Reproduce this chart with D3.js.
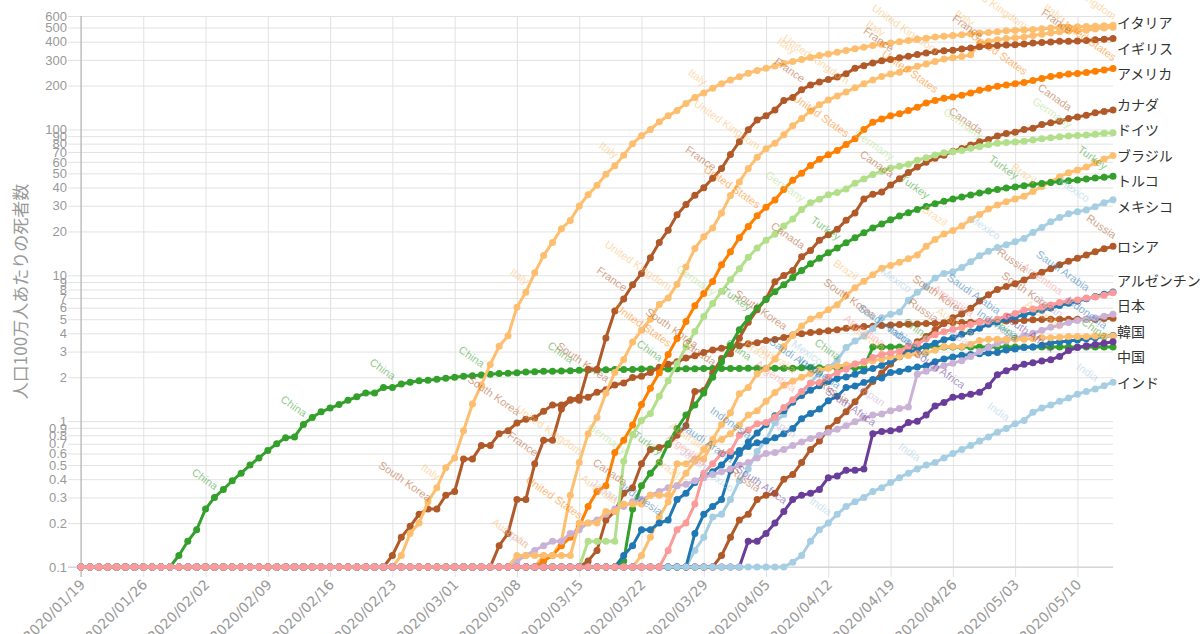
<!DOCTYPE html>
<html>
<head>
<meta charset="utf-8">
<script src="https://cdn.jsdelivr.net/npm/d3@7"></script>
<style>
  body { margin: 0; background: #fff; }
  svg { display: block; }
  text { font-family: "Liberation Sans", Arial, sans-serif; }
</style>
</head>
<body>
<svg width="1203" height="634"></svg>
<script>
// axis data
const firstDay = "2020/01/19";
const lastDay = "2020/05/14";
const tickLabels = ["2020/01/19", "2020/01/26", "2020/02/02", "2020/02/09", "2020/02/16", "2020/02/23",
  "2020/03/01", "2020/03/08", "2020/03/15", "2020/03/22", "2020/03/29", "2020/04/05", "2020/04/12",
  "2020/04/19", "2020/04/26", "2020/05/03", "2020/05/10"];
const yTicks = [0.1, 0.2, 0.3, 0.4, 0.5, 0.6, 0.7, 0.8, 0.9, 1, 2, 3, 4, 5, 6, 7, 8, 9,
  10, 20, 30, 40, 50, 60, 70, 80, 90, 100, 200, 300, 400, 500, 600];
const floorValue = 0.1; // values under 0.1 are drawn on the 0.1 line
const yTitle = "人口100万人あたりの死者数";

// series (draw order). every value array ends on lastDay; days before its first value sit on the floor
const countries = ["China", "South Korea", "Italy", "United Kingdom", "France", "United States", "Canada",
  "Germany", "Brazil", "Turkey", "Mexico", "Russia", "Saudi Arabia", "Indonesia", "Japan", "Australia",
  "South Africa", "India", "Argentina"];
const jaNames = ["中国", "韓国", "イタリア", "イギリス", null, "アメリカ", "カナダ", "ドイツ", "ブラジル", "トルコ",
  "メキシコ", "ロシア", null, null, "日本", null, null, "インド", "アルゼンチン"];
const lineColors = ["#33a02c", "#b15928", "#fdbf6f", "#fdbf6f", "#b15928", "#ff7f00", "#b15928", "#b2df8a",
  "#fdbf6f", "#33a02c", "#a6cee3", "#b15928", "#1f78b4", "#1f78b4", "#cab2d6", "#fdbf6f", "#6a3d9a",
  "#a6cee3", "#fb9a99"];

// deaths per million, daily
const china = [0.1, 0.12, 0.15,
  0.18, 0.25, 0.30, 0.34, 0.39, 0.44, 0.50, 0.56, 0.63, 0.70, 0.77, 0.78, 0.95, 1.06, 1.16, 1.23, 1.30, 1.39, 1.47, 1.56,
  1.56, 1.70, 1.70, 1.80, 1.85, 1.89, 1.91, 1.94, 1.97,
  2.00, 2.03, 2.05, 2.07, 2.10, 2.12, 2.13, 2.15, 2.17, 2.18, 2.20, 2.20, 2.21, 2.22, 2.23, 2.24, 2.24, 2.25, 2.26, 2.26,
  2.26, 2.28, 2.28, 2.28, 2.28, 2.29, 2.29, 2.29, 2.30, 2.30, 2.30,
  2.30, 2.30, 2.31, 2.31, 2.31, 2.31, 2.31, 2.31, 2.32, 2.32, 2.32, 2.32, 2.32, 2.32, 2.32, 2.32, 3.22, 3.22, 3.22, 3.22,
  3.22, 3.22, 3.22, 3.22, 3.22, 3.22, 3.22, 3.22, 3.22, 3.22,
  3.22, 3.22, 3.22, 3.22, 3.22, 3.22, 3.22, 3.22, 3.22, 3.22, 3.22, 3.22, 3.22, 3.22];
const southKorea = [0.1, 0.12, 0.16, 0.19, 0.23, 0.25, 0.25, 0.31,
  0.33, 0.55, 0.55, 0.68, 0.68, 0.82, 0.86, 0.97, 1.03, 1.05, 1.17, 1.29, 1.29, 1.40, 1.46, 1.46, 1.58, 1.64, 1.77, 1.83,
  1.99, 2.03, 2.16, 2.34, 2.46, 2.55, 2.71, 2.81, 2.96, 3.08, 3.16,
  3.22, 3.29, 3.39, 3.45, 3.57, 3.63, 3.74, 3.90, 3.98, 4.05, 4.11, 4.17, 4.23, 4.33, 4.39, 4.46, 4.48, 4.52, 4.56, 4.60,
  4.62, 4.64, 4.68, 4.68, 4.72, 4.74, 4.74, 4.76, 4.80, 4.81,
  4.83, 4.87, 4.87, 4.91, 4.95, 4.97, 4.99, 4.99, 4.99, 4.99, 4.99, 4.99, 5.05, 5.07];
const italy = [0.1, 0.12, 0.17, 0.20, 0.28, 0.35, 0.48,
  0.56, 0.86, 1.31, 1.77, 2.45, 3.26, 3.85, 6.05, 7.66, 10.4, 13.7, 16.8, 20.9, 23.8, 29.9, 35.7, 41.4, 49.3, 56.3, 66.7,
  79.8, 90.6, 100, 113, 124, 135, 151, 166, 178, 192, 206,
  218, 230, 243, 254, 263, 273, 283, 292, 302, 312, 322, 329, 339, 348, 358, 367, 376, 384, 391, 399,
  408, 415, 423, 430, 436, 441, 446, 453, 458, 463,
  467, 475, 478, 481, 485, 491, 496, 500, 503, 506, 508, 511, 515, 519];
const unitedKingdom = [0.1, 0.12, 0.12, 0.15, 0.31, 0.52, 0.82, 1.06, 1.56, 2.16,
  2.65, 3.49, 4.2, 5.0, 6.3, 7.0, 8.7, 11.4, 15.3, 18.4, 21.1, 26.8,
  35.2, 43.7, 54.0, 64.6, 73.9, 80.4, 92.2, 106, 119, 134, 148, 159, 170, 181, 193, 206, 218, 231, 240, 247,
  260, 271, 281, 292, 304, 310, 316, 325, 391, 401,
  412, 421, 426, 430, 441, 450, 458, 468, 473, 477, 480, 489, 497, 503];
const france = [0.1, 0.14, 0.17, 0.29, 0.29, 0.51, 0.74, 0.74, 1.21, 1.39,
  1.39, 2.27, 2.27, 3.72, 5.70, 6.89, 8.61, 10.3, 13.2, 16.8, 20.4, 26.0, 30.6, 35.4, 39.9, 46.3, 54.0,
  67.4, 82.5, 99.6, 116, 124, 136, 158, 166, 187, 202, 212, 220, 229, 241, 263, 274, 286, 296, 302, 310,
  318, 327, 335, 341, 346, 350, 357, 362, 369, 373,
  377, 379, 381, 386, 391, 395, 398, 402, 403, 404, 408, 413, 415, 420];
const unitedStates = [0.1, 0.11, 0.12, 0.14, 0.16, 0.19, 0.26, 0.33, 0.36, 0.61,
  0.74, 0.94, 1.30, 1.68, 2.15, 2.87, 3.69, 4.82, 6.18, 7.52, 9.08, 11.8,
  14.5, 18.1, 21.6, 25.6, 29.3, 32.9, 38.8, 44.8, 50.2, 56.7, 62.4, 67.1, 71.7, 78.8, 86.4, 100, 112, 118, 124, 128,
  135, 142, 152, 158, 164, 167, 172, 178, 186, 192,
  198, 202, 206, 210, 217, 224, 231, 235, 240, 242, 246, 251, 256, 262];
const canada = [0.1, 0.11, 0.13, 0.21, 0.24, 0.32, 0.35, 0.51, 0.64, 0.66, 0.69, 0.80, 0.93, 1.60, 1.62, 2.13, 2.69,
  2.90, 3.70, 4.76, 5.80, 6.89, 9.02, 9.97, 10.8, 13.4, 14.8, 17.4, 19.0, 20.7, 23.9, 26.8, 33.4, 36.0, 37.2, 41.6, 45.9,
  50.7, 55.2, 59.5, 63.4, 66.7, 70.8, 74.1, 78.2, 82.3, 85.5,
  90.2, 93.9, 95.9, 100, 102, 108, 111, 114, 119, 122, 125, 130, 133, 136];
const germany = [0.1, 0.15, 0.15, 0.15, 0.15, 0.53, 0.81, 1.01, 1.13, 1.48, 1.89, 2.48, 3.22, 4.12, 5.22, 6.42, 7.77,
  9.34, 11.1, 13.3, 15.4, 17.4, 19.1, 21.8, 24.3, 28.3, 31.4, 33.3, 35.7, 37.0, 39.1, 42.8, 45.8, 49.1, 51.7, 54.4, 55.9,
  57.7, 61.5, 64.0, 66.8, 69.3, 70.4, 71.8, 74.3, 76.2, 78.5,
  80.4, 81.3, 82.0, 83.0, 84.6, 86.4, 87.7, 89.3, 90.4, 91.0, 91.5, 92.7, 94.2, 95.0];
const brazil = [0.1, 0.12, 0.16, 0.22, 0.28, 0.36, 0.44, 0.53, 0.64, 0.75, 0.95,
  1.14, 1.54, 1.70, 2.11, 2.30, 2.67, 3.25, 3.88, 4.50, 5.01, 5.33, 5.80, 6.29, 7.26, 8.23, 9.12, 10.1, 11.2, 11.7, 12.3,
  13.0, 13.8, 15.8, 17.6, 19.2, 20.3, 21.8, 24.1, 26.1, 28.5,
  30.4, 32.0, 33.4, 34.9, 37.6, 40.7, 43.6, 47.5, 50.5, 52.7, 55.2, 59.1, 62.7, 66.3];
const turkey = [0.1, 0.11, 0.25, 0.36, 0.44, 0.52, 0.70, 0.89, 1.10, 1.29, 1.56, 2.00, 2.55,
  3.30, 4.24, 5.06, 5.96, 6.83, 7.73, 8.63, 9.67, 10.8, 12.0, 13.1, 14.3, 15.4, 16.7, 18.1, 19.6, 21.1, 22.5, 24.0, 25.5,
  26.9, 28.3, 29.7, 31.0, 32.2, 33.4, 34.5, 35.6, 36.7, 37.8,
  38.8, 39.7, 40.4, 41.2, 41.9, 42.7, 43.3, 43.9, 44.5, 45.1, 45.7, 46.4, 47.0, 47.7];
const mexico = [0.1, 0.13, 0.16, 0.22, 0.23,
  0.29, 0.39, 0.47, 0.62, 0.74, 0.98, 1.11, 1.37, 1.53, 1.83, 2.15, 2.33, 2.61, 3.20, 3.54, 3.83, 4.30, 5.12, 5.40, 5.60,
  6.75, 7.64, 8.42, 9.60, 10.3, 10.6, 11.3, 12.4, 13.6, 14.6,
  15.5, 16.2, 17.0, 17.9, 19.7, 21.3, 23.3, 24.9, 26.4, 27.3, 28.1, 29.5, 31.5, 33.0];
const russia = [0.1, 0.12,
  0.16, 0.21, 0.23, 0.29, 0.31, 0.32, 0.40, 0.43, 0.52, 0.64, 0.73, 0.89, 1.01, 1.16, 1.36, 1.59, 1.87, 2.14, 2.47, 2.77,
  3.12, 3.51, 3.80, 4.21, 4.67, 5.12, 5.44, 5.94, 6.66, 7.35,
  8.0, 8.37, 8.77, 9.29, 9.94, 10.5, 11.1, 11.8, 12.5, 13.1, 13.8, 14.5, 15.2, 15.8];
const saudiArabia = [0.1, 0.17, 0.23, 0.26, 0.29,
  0.46, 0.60, 0.72, 0.83, 0.95, 1.09, 1.18, 1.35, 1.50, 1.63, 1.75, 1.87, 1.96, 2.01, 2.10, 2.21, 2.30, 2.41, 2.56, 2.79,
  2.96, 3.10, 3.28, 3.42, 3.62, 3.73, 3.94, 4.08, 4.34, 4.62,
  4.79, 4.99, 5.17, 5.37, 5.57, 5.77, 5.97, 6.20, 6.43, 6.66, 6.90, 7.15, 7.42, 7.70];
const indonesia = [0.1, 0.12, 0.14, 0.18, 0.18, 0.20, 0.21, 0.29, 0.32, 0.38, 0.42, 0.45, 0.50,
  0.58, 0.63, 0.67, 0.71, 0.73, 0.77, 0.82, 0.89, 1.04, 1.13, 1.21, 1.38, 1.48, 1.70, 1.74, 1.84, 1.93, 1.98, 2.16, 2.19,
  2.28, 2.35, 2.40, 2.55, 2.67, 2.75, 2.83, 2.86, 2.90, 2.93,
  2.96, 3.08, 3.13, 3.20, 3.23, 3.31, 3.44, 3.49, 3.55, 3.60, 3.67, 3.73, 3.81, 3.86];
const japan = [0.1, 0.1, 0.1, 0.1, 0.11, 0.12, 0.13, 0.14, 0.15, 0.15, 0.17, 0.18, 0.20, 0.21, 0.23, 0.25, 0.26, 0.28,
  0.29, 0.31, 0.33, 0.35, 0.36, 0.37, 0.39, 0.41, 0.43, 0.45,
  0.47, 0.50, 0.52, 0.56, 0.60, 0.61, 0.64, 0.68, 0.72, 0.76, 0.80, 0.84, 0.88, 0.93, 0.99, 1.05, 1.10, 1.12, 1.18, 1.22,
  1.25, 2.10, 2.20, 2.30, 2.40, 2.50, 2.60, 2.78, 3.00, 3.20,
  3.40, 3.55, 3.70, 3.85, 4.00, 4.20, 4.40, 4.55, 4.75, 4.90, 5.00, 5.10, 5.25, 5.40];
const australia = [0.1, 0.1, 0.1, 0.1, 0.12, 0.12, 0.12, 0.12, 0.12, 0.12, 0.12, 0.20, 0.20, 0.20, 0.24, 0.24, 0.27,
  0.27, 0.27, 0.31, 0.31, 0.31, 0.51, 0.51, 0.55, 0.55, 0.71, 0.75,
  0.82, 0.94, 1.10, 1.18, 1.37, 1.57, 1.76, 1.88, 2.00, 2.12, 2.24, 2.31, 2.39, 2.43, 2.47, 2.51, 2.59, 2.67, 2.75, 2.78,
  2.82, 2.90, 2.94, 3.06, 3.25, 3.25, 3.25, 3.37, 3.57, 3.65,
  3.65, 3.65, 3.65, 3.65, 3.69, 3.73, 3.73, 3.76, 3.80, 3.80, 3.80, 3.84, 3.84, 3.84];
const southAfrica = [0.1, 0.15, 0.15, 0.17, 0.20, 0.24, 0.29, 0.31, 0.32, 0.34, 0.41, 0.42, 0.46, 0.46, 0.47, 0.82,
  0.85, 0.86, 0.88, 0.98, 1.0, 1.1, 1.27, 1.34, 1.46, 1.48, 1.53, 1.58, 1.75,
  2.08, 2.22, 2.34, 2.46, 2.51, 2.59, 2.64, 2.78, 3.05, 3.20, 3.29, 3.35, 3.42, 3.50];
const india = [0.1, 0.108, 0.12, 0.15, 0.18, 0.20, 0.23, 0.26, 0.28, 0.30, 0.33, 0.35, 0.38, 0.41, 0.44, 0.47, 0.50,
  0.52, 0.56, 0.60, 0.64, 0.68, 0.73, 0.78,
  0.84, 0.89, 0.96, 1.01, 1.15, 1.23, 1.29, 1.37, 1.44, 1.53, 1.60, 1.66, 1.75, 1.85];
const argentina = [0.1, 0.13, 0.18, 0.20, 0.27, 0.44, 0.51, 0.60,
  0.62, 0.80, 0.87, 0.96, 0.98, 1.07, 1.24, 1.40, 1.60, 1.82, 1.84, 2.00, 2.16, 2.27, 2.47, 2.56, 2.73, 2.87, 2.93, 3.02,
  3.27, 3.38, 3.67, 3.91, 4.11, 4.27, 4.38, 4.60, 4.76, 4.84,
  5.00, 5.27, 5.47, 5.78, 5.87, 6.07, 6.27, 6.51, 6.67, 6.78, 7.00, 7.09, 7.31, 7.60];

const seriesValues = [china, southKorea, italy, unitedKingdom, france, unitedStates, canada, germany, brazil,
  turkey, mexico, russia, saudiArabia, indonesia, japan, australia, southAfrica, india, argentina];

// layout
const plot = {left: 81, right: 1113, top: 16, bottom: 567};
const svg = d3.select("svg");
const parse = d3.utcParse("%Y/%m/%d");

const xScale = d3.scaleUtc()
  .domain([parse(firstDay), parse(lastDay)])
  .range([plot.left, plot.right]);
const yScale = d3.scaleLog()
  .domain([yTicks[0], yTicks[yTicks.length - 1]])
  .range([plot.bottom, plot.top]);

const days = d3.utcDay.range(parse(firstDay), d3.utcDay.offset(parse(lastDay), 1));

const series = countries.map((name, k) => {
  const vals = seriesValues[k];
  const start = days.length - vals.length;
  const points = days.map((d, i) => ({
    date: d,
    value: i < start ? floorValue : Math.max(floorValue, vals[i - start])
  }));
  return {name: name, ja: jaNames[k], color: lineColors[k], start: start, points: points};
});

//grid + y axis
const yAxis = svg.append("g")
  .attr("transform", `translate(${plot.left - 13},0)`)
  .call(d3.axisLeft(yScale)
    .tickValues(yTicks)
    .tickFormat(d3.format("~g"))
    .tickSizeInner(-(plot.right - plot.left + 13))
    .tickSizeOuter(0)
    .tickPadding(1));
yAxis.select(".domain").remove();
yAxis.selectAll("line").attr("stroke", "#e2e2e2");
yAxis.selectAll("text")
  .attr("fill", "#999")
  .style("font-size", "13px");

//grid + x axis
const xAxis = svg.append("g")
  .attr("transform", `translate(0,${plot.bottom + 10})`)
  .call(d3.axisBottom(xScale)
    .tickValues(tickLabels.map(parse))
    .tickFormat(d3.utcFormat("%Y/%m/%d"))
    .tickSizeInner(-(plot.bottom + 10 - plot.top))
    .tickSizeOuter(0));
xAxis.select(".domain").remove();
xAxis.selectAll("line").attr("stroke", "#e2e2e2");
xAxis.selectAll("text")
  .attr("fill", "#999")
  .style("font-family", "'DejaVu Sans', sans-serif")
  .style("font-size", "14px")
  .attr("y", 0)
  .attr("dy", "0.35em")
  .attr("text-anchor", "end")
  .attr("transform", "translate(1,5) rotate(-45)");

svg.append("line")
  .attr("x1", plot.left).attr("x2", plot.left)
  .attr("y1", plot.top).attr("y2", plot.bottom + 10)
  .attr("stroke", "#aaa");
svg.append("line")
  .attr("x1", plot.left - 13).attr("x2", plot.right)
  .attr("y1", plot.bottom).attr("y2", plot.bottom)
  .attr("stroke", "#ccc");

// y title
svg.append("text")
  .attr("transform", `translate(19,${(plot.top + plot.bottom) / 2}) rotate(-90)`)
  .attr("text-anchor", "middle")
  .attr("dominant-baseline", "central")
  .attr("fill", "#999")
  .style("font-family", "'Noto Sans CJK JP', sans-serif")
  .style("font-size", "17px")
  .text(yTitle);

//lines with a dot on every day
const line = d3.line()
  .x(d => xScale(d.date))
  .y(d => yScale(d.value));

const groups = svg.selectAll("g.series")
  .data(series)
  .enter()
  .append("g")
  .attr("class", "series");

groups.append("path")
  .attr("d", s => line(s.points))
  .attr("fill", "none")
  .attr("stroke", s => s.color)
  .attr("stroke-width", 3);

groups.selectAll("circle")
  .data(s => s.points.map(p => ({p: p, color: s.color})))
  .enter()
  .append("circle")
  .attr("cx", d => xScale(d.p.date))
  .attr("cy", d => yScale(d.p.value))
  .attr("r", 3.5)
  .attr("fill", d => d.color);

//faded name labels every 10 days along each line
const nameLabels = [];
series.forEach(s => {
  for (let i = s.start + 5; i < s.points.length; i += 10) {
    if (s.points[i].value > floorValue) nameLabels.push({name: s.name, color: s.color, p: s.points[i]});
  }
});
svg.append("g")
  .selectAll("text")
  .data(nameLabels)
  .enter()
  .append("text")
  .attr("transform", d => `translate(${xScale(d.p.date)},${yScale(d.p.value) - 7}) rotate(35)`)
  .attr("text-anchor", "end")
  .attr("fill", d => d.color)
  .attr("opacity", 0.55)
  .style("font-size", "11px")
  .text(d => d.name);

//japanese names at the right end, pushed apart so they do not overlap
const labelGap = 25.5;
const endLabels = series.filter(s => s.ja).map(s => {
  const last = s.points[s.points.length - 1];
  return {text: s.ja, pos: yScale(last.value)};
});
endLabels.sort((a, b) => a.pos - b.pos);
for (let it = 0; it < 400; it++) {
  for (let i = 1; i < endLabels.length; i++) {
    const a = endLabels[i - 1], b = endLabels[i];
    const gap = b.pos - a.pos;
    if (gap < labelGap) {
      a.pos -= (labelGap - gap) / 2;
      b.pos += (labelGap - gap) / 2;
    }
  }
  if (endLabels[0].pos < plot.top + 6) endLabels[0].pos = plot.top + 6;
}

svg.append("g")
  .selectAll("text")
  .data(endLabels)
  .enter()
  .append("text")
  .attr("x", plot.right + 4)
  .attr("y", d => d.pos)
  .attr("dominant-baseline", "central")
  .attr("fill", "#333")
  .style("font-family", "'Noto Sans CJK JP', sans-serif")
  .style("font-size", "14px")
  .text(d => d.text);
</script>
</body>
</html>
